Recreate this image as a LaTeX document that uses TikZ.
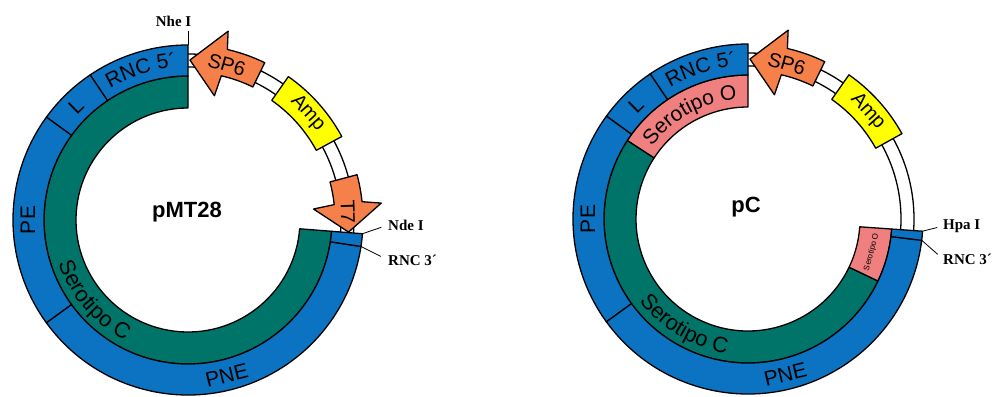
\documentclass[tikz,border=0pt]{standalone}
\usepackage{fontspec}
\setmainfont{Liberation Serif}
\setsansfont{Liberation Sans}
\usetikzlibrary{decorations.text}

\definecolor{ringblue}{RGB}{12,115,194}
\definecolor{ringteal}{RGB}{0,116,104}
\definecolor{ringpink}{RGB}{240,128,128}
\definecolor{promoter}{RGB}{245,128,74}
\definecolor{marker}{RGB}{255,255,0}

% annular sector: inner radius, outer radius, start angle, end angle
\newcommand\sector[4]{(#3:#2) arc[start angle=#3,end angle=#4,radius=#2] -- (#4:#1) arc[start angle=#4,end angle=#3,radius=#1] -- cycle}
% promoter pointing counter-clockwise (SP6)
\newcommand\promccw{(64:148) -- (64:175) arc[start angle=64,end angle=77,radius=175] -- (78:193) -- (89.3:160) -- (78:127) -- (77:148) arc[start angle=77,end angle=64,radius=148] -- cycle}
% promoter pointing clockwise (T7)
\newcommand\promcw{(15:147) -- (15:175) arc[start angle=15,end angle=6,radius=175] -- (5:194) -- (-4.3:161) -- (5:126) -- (6:147) arc[start angle=6,end angle=15,radius=147] -- cycle}

\newcommand\ringfont{\sffamily\fontsize{21}{25}\selectfont}
\newcommand\serofont{\sffamily\fontsize{22}{26}\selectfont}

\tikzset{
  seg/.style={draw=black, line width=1.3pt, line join=round},
  backbone/.style={draw=black, line width=1.3pt},
  ringlabel/.style={font=\ringfont, inner sep=0pt},
  featlabel/.style={font=\sffamily\fontsize{20}{24}\selectfont, inner sep=0pt},
  tinylabel/.style={font=\sffamily\fontsize{8}{9}\selectfont, inner sep=0pt},
  namelabel/.style={font=\sffamily\bfseries\fontsize{22}{26}\selectfont, inner sep=0pt},
  sitelabel/.style={font=\bfseries\fontsize{15}{17}\selectfont, inner sep=0pt},
  pointer/.style={draw=black, line width=0.8pt},
  arctext/.style={decorate, decoration={text along path, text={#1}, text align=center}}
}

\begin{document}
\begin{tikzpicture}[x=1pt,y=1pt]
\useasboundingbox (0,0) rectangle (992,396);
\fill[white] (0,0) rectangle (992,396);

% ---------------- pMT28 ----------------
\begin{scope}[shift={(188,176)}]
  % vector backbone
  \fill[white] \sector{153}{166}{-4.5}{90};
  \draw[backbone] (-4.5:153) arc[start angle=-4.5,end angle=90,radius=153];
  \draw[backbone] (-4.5:166) arc[start angle=-4.5,end angle=90,radius=166];
  % inner ring
  \filldraw[seg, fill=ringteal] \sector{112}{144}{90}{355.5};
  % outer ring
  \filldraw[seg, fill=ringblue] \sector{144}{175}{90}{124};
  \filldraw[seg, fill=ringblue] \sector{144}{175}{124}{144};
  \filldraw[seg, fill=ringblue] \sector{144}{175}{144}{216};
  \filldraw[seg, fill=ringblue] \sector{144}{175}{216}{351.3};
  \filldraw[seg, fill=ringblue] \sector{144}{175}{351.3}{355.5};
  % features
  \filldraw[seg, fill=marker] \sector{146}{175}{28.5}{55};
  \filldraw[seg, fill=promoter] \promccw;
  \filldraw[seg, fill=promoter] \promcw;
  % labels
  \path[arctext={|\ringfont|RNC 5´}] (127.5:153) arc[start angle=127.5,end angle=87.5,radius=153];
  \node[ringlabel, rotate=44.5] (lA) at (134.5:160) {L};
  \node[ringlabel, rotate=90] (peA) at (180:160) {PE};
  \path[arctext={|\serofont|Serotipo C}] (186:136) arc[start angle=186,end angle=255,radius=136];
  \node[ringlabel, rotate=14] (pneA) at (284:160) {PNE};
  \node[featlabel, rotate=-16] (sp6A) at (76:160) {SP6};
  \node[featlabel, rotate=-48] (ampA) at (41.75:160.5) {Amp};
  \node[featlabel, rotate=-88] (t7A) at (3:160) {T7};
  \coordinate (nheA) at (90:175);
  \coordinate (ndeA) at (-4.5:175);
  \coordinate (rnc3A) at (-8.7:175);
\end{scope}
\node[namelabel, anchor=base] (nameA) at (187,178) {pMT28};
\node[sitelabel, anchor=base east] (nheAlab) at (191.5,369) {Nhe I};
\coordinate (nheAtop) at (188,365);
\draw[pointer] (nheAtop) -- (nheA);
\node[sitelabel, anchor=west] (ndeAlab) at (388,171) {Nde I};
\node[sitelabel, anchor=west] (rnc3Alab) at (388,136) {RNC 3´};
\draw[pointer, shorten >=7pt] (ndeA) -- (ndeAlab.west);
\draw[pointer, shorten >=8pt] (rnc3A) -- (rnc3Alab.west);

% ---------------- pC ----------------
\begin{scope}[shift={(748,177)}]
  % vector backbone
  \fill[white] \sector{153}{166}{-4}{90};
  \draw[backbone] (-4:153) arc[start angle=-4,end angle=90,radius=153];
  \draw[backbone] (-4:166) arc[start angle=-4,end angle=90,radius=166];
  % inner ring
  \filldraw[seg, fill=ringpink] \sector{112}{144}{90}{147};
  \filldraw[seg, fill=ringteal] \sector{112}{144}{147}{334.5};
  \filldraw[seg, fill=ringpink] \sector{112}{144}{334.5}{356};
  % outer ring
  \filldraw[seg, fill=ringblue] \sector{144}{175}{90}{124};
  \filldraw[seg, fill=ringblue] \sector{144}{175}{124}{144};
  \filldraw[seg, fill=ringblue] \sector{144}{175}{144}{216};
  \filldraw[seg, fill=ringblue] \sector{144}{175}{216}{353};
  \filldraw[seg, fill=ringblue] \sector{144}{175}{353}{356};
  % features
  \filldraw[seg, fill=marker] \sector{146}{176}{29}{55};
  \filldraw[seg, fill=promoter] \promccw;
  % labels
  \path[arctext={|\ringfont|RNC 5´}] (127.5:153) arc[start angle=127.5,end angle=87.5,radius=153];
  \node[ringlabel, rotate=44.5] (lB) at (134.5:160) {L};
  \node[ringlabel, rotate=90] (peB) at (180:160) {PE};
  \path[arctext={|\ringfont|Serotipo O}] (152:120.5) arc[start angle=152,end angle=86,radius=120.5];
  \path[arctext={|\serofont|Serotipo C}] (205:136) arc[start angle=205,end angle=273,radius=136];
  \node[tinylabel, rotate=75] (soB) at (-15:128) {Serotipo O};
  \node[ringlabel, rotate=13.5] (pneB) at (283.5:160) {PNE};
  \node[featlabel, rotate=-16] (sp6B) at (76:160) {SP6};
  \node[featlabel, rotate=-48] (ampB) at (42:161) {Amp};
  \coordinate (hpaB) at (-4:175);
  \coordinate (rnc3B) at (-7:175);
\end{scope}
\node[namelabel, anchor=base] (nameB) at (746,183) {pC};
\node[sitelabel, anchor=west] (hpaBlab) at (943,170) {Hpa I};
\node[sitelabel, anchor=west] (rnc3Blab) at (943,137) {RNC 3´};
\draw[pointer, shorten >=6pt] (hpaB) -- (hpaBlab.west);
\draw[pointer, shorten >=7pt] (rnc3B) -- (rnc3Blab.west);
\end{tikzpicture}
\end{document}
